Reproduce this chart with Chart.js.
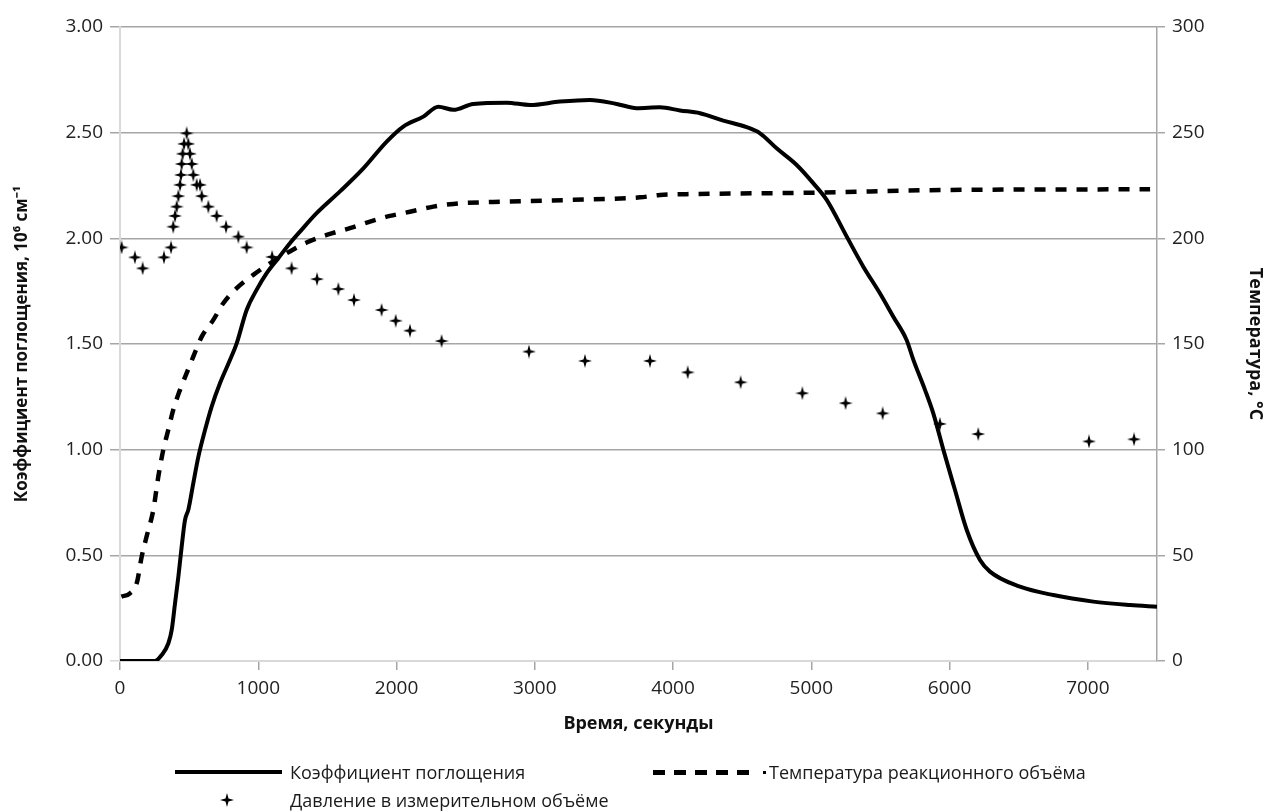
<!DOCTYPE html>
<html>
<head>
<meta charset="utf-8">
<script src="https://cdn.jsdelivr.net/npm/chart.js@4/dist/chart.umd.min.js"></script>
<style>
  html, body { margin: 0; padding: 0; background: #fff; }
  #wrap { position: relative; width: 1267px; height: 812px; }
  #chart { position: absolute; left: 0; top: 0; }
  .lg { position: absolute; font-family: "Open Sans", sans-serif; font-size: 18px; color: #1a1a1a; line-height: 22px; white-space: nowrap; }
  .sw { position: absolute; }
</style>
</head>
<body>
<div id="wrap">
  <canvas id="chart" width="1267" height="812"></canvas>
  <div class="sw" style="left:175px;top:770px;width:107px;height:4px;background:#000"></div>
  <div class="lg" style="left:290px;top:761px">Коэффициент поглощения</div>
  <div class="sw" style="left:653px;top:770px;width:105px;height:5px;background:repeating-linear-gradient(90deg,#000 0 12px,transparent 12px 21px)"></div>
  <div class="sw" style="left:763px;top:771px;width:3px;height:3px;background:#000"></div>
  <div class="lg" style="left:769px;top:761px">Температура реакционного объёма</div>
  <div class="sw" id="legendStar" style="left:220px;top:793px"></div>
  <div class="lg" style="left:290px;top:789px">Давление в измерительном объёме</div>
</div>
<script>
// absorption coefficient, 10^6 cm^-1 (left axis)
const absTime = [0, 150, 253, 301, 350, 374, 398, 422, 446, 470, 494, 530, 567, 615, 663, 723, 796, 844, 916, 988,
  1061, 1145, 1229, 1302, 1422, 1591, 1760, 1929, 2049, 2194, 2302, 2411, 2555, 2797, 2965, 3182, 3399, 3592, 3737, 3905,
  4050, 4195, 4363, 4532, 4629, 4749, 4894, 5015, 5111, 5256, 5376, 5496, 5593, 5689, 5738, 5822, 5882, 5955, 6039, 6124,
  6220, 6292, 6509, 6750, 7039, 7305, 7500];
const absValue = [0, 0, 0, 0.028, 0.084, 0.147, 0.273, 0.399, 0.541, 0.667, 0.715, 0.841, 0.967, 1.093, 1.204, 1.314, 1.425, 1.503, 1.661, 1.756,
  1.835, 1.906, 1.977, 2.032, 2.119, 2.222, 2.331, 2.458, 2.529, 2.576, 2.623, 2.608, 2.636, 2.642, 2.631, 2.647, 2.655, 2.636, 2.616, 2.62,
  2.605, 2.592, 2.557, 2.526, 2.497, 2.426, 2.347, 2.26, 2.182, 2.008, 1.866, 1.74, 1.629, 1.519, 1.425, 1.283, 1.172, 0.999, 0.809, 0.62,
  0.478, 0.423, 0.352, 0.312, 0.281, 0.265, 0.257];

// reaction volume temperature, C (right axis)
const tempTime = [10, 72, 121, 157, 192, 241, 277, 313, 349, 385, 434, 482, 530, 591, 675, 747, 844, 964, 1085, 1206,
  1350, 1495, 1663, 1808, 1953, 2097, 2266, 2411, 2797, 3279, 3761, 3905, 4098, 5014, 5979, 7450];
const tempValue = [30.5, 32, 36.8, 49.4, 58.8, 71.5, 87.2, 99.9, 109.3, 118.8, 128.3, 136.2, 144, 153.5, 161.4, 169.3, 176.4, 182.7, 188.2, 193,
  198, 201.6, 204.8, 207.9, 210.6, 212.6, 215, 216.3, 217.4, 218.2, 219.4, 220.5, 220.9, 221.6, 222.9, 223.2];

// pressure in the measuring volume (plotted on left axis)
const presTime = [12, 108, 164, 318, 369, 385, 398, 410, 422, 434, 441, 446, 453, 463, 482, 494, 506, 519, 530, 555,
  579, 591, 639, 699, 767, 856, 916, 1100, 1241, 1425, 1579, 1692, 1892, 1994, 2097, 2326, 2958, 3363, 3833, 4106,
  4489, 4935, 5248, 5516, 5930, 6207, 7008, 7334];
const presValue = [1.957, 1.91, 1.858, 1.91, 1.957, 2.055, 2.106, 2.15, 2.2, 2.253, 2.3, 2.352, 2.4, 2.447, 2.497, 2.447, 2.4, 2.352, 2.3, 2.253,
  2.253, 2.2, 2.15, 2.106, 2.055, 2.008, 1.957, 1.912, 1.858, 1.807, 1.76, 1.708, 1.661, 1.61, 1.563, 1.514, 1.464, 1.42, 1.42, 1.366,
  1.319, 1.267, 1.22, 1.172, 1.122, 1.074, 1.039, 1.049];

const leftTicks = [0, 0.5, 1, 1.5, 2, 2.5, 3];
const rightTicks = [0, 50, 100, 150, 200, 250, 300];
const timeTicks = [0, 1000, 2000, 3000, 4000, 5000, 6000, 7000];

const pairs = (xs, ys) => xs.map((x, i) => ({ x: x, y: ys[i] }));

// small four-point star used as the pressure marker
function makeStar(size) {
    const c = document.createElement('canvas');
    c.width = size; c.height = size;
    const g = c.getContext('2d');
    const m = size / 2, r = size / 2, q = 1.5;
    g.fillStyle = '#000';
    g.beginPath();
    g.moveTo(m, m - r);
    g.lineTo(m + q, m - q);
    g.lineTo(m + r, m);
    g.lineTo(m + q, m + q);
    g.lineTo(m, m + r);
    g.lineTo(m - q, m + q);
    g.lineTo(m - r, m);
    g.lineTo(m - q, m - q);
    g.closePath();
    g.fill();
    return c;
}
const starMarker = makeStar(14);
document.getElementById('legendStar').appendChild(makeStar(14));

const tickFont = { family: "'Open Sans', sans-serif", size: 19 };
const GRID = '#a6a6a6';
const LIGHT = '#d9d9d9';

new Chart(document.getElementById('chart').getContext('2d'), {
    type: 'scatter',
    data: {
        datasets: [
            {
                label: 'Коэффициент поглощения',
                data: pairs(absTime, absValue),
                showLine: true,
                borderColor: '#000',
                borderWidth: 4,
                pointRadius: 0,
                cubicInterpolationMode: 'monotone',
                yAxisID: 'y'
            },
            {
                label: 'Температура реакционного объёма',
                data: pairs(tempTime, tempValue),
                showLine: true,
                borderColor: '#000',
                borderWidth: 4.5,
                borderDash: [11, 10],
                borderCapStyle: 'butt',
                pointRadius: 0,
                cubicInterpolationMode: 'monotone',
                yAxisID: 'y2'
            },
            {
                label: 'Давление в измерительном объёме',
                data: pairs(presTime, presValue),
                showLine: false,
                pointStyle: starMarker,
                pointRadius: 6,
                yAxisID: 'y'
            }
        ]
    },
    options: {
        responsive: false,
        animation: false,
        layout: { padding: { left: 4, right: 1, top: 27, bottom: 76 } },
        plugins: { legend: { display: false }, tooltip: { enabled: false } },
        scales: {
            x: {
                type: 'linear',
                min: 0,
                max: 7500,
                afterFit: s => { s.height = 75; },
                afterBuildTicks: s => { s.ticks = timeTicks.map(v => ({ value: v })); },
                grid: { drawOnChartArea: false, drawTicks: true, tickLength: 9, color: GRID, lineWidth: 1.5 },
                border: { color: LIGHT, width: 2 },
                ticks: { font: tickFont, color: '#222', padding: 7, maxRotation: 0, callback: v => String(v) },
                title: { display: true, text: 'Время, секунды', color: '#111', padding: { top: 0, bottom: 1 },
                         font: { family: "'Open Sans', sans-serif", size: 18, weight: 'bold' } }
            },
            y: {
                position: 'left',
                min: 0,
                max: 3,
                afterFit: s => { s.width = 116; },
                afterBuildTicks: s => { s.ticks = leftTicks.map(v => ({ value: v })); },
                grid: { color: ctx => (ctx.tick && ctx.tick.value === 0 ? LIGHT : GRID), lineWidth: 1.5, tickLength: 10 },
                border: { color: LIGHT, width: 2 },
                ticks: { font: tickFont, color: '#222', padding: 7, callback: v => Number(v).toFixed(2) },
                title: { display: true, text: 'Коэффициент поглощения, 10⁶ см⁻¹', color: '#111', padding: { top: 8 },
                         font: { family: "'Open Sans', sans-serif", size: 17, weight: 'bold' } }
            },
            y2: {
                position: 'right',
                min: 0,
                max: 300,
                afterFit: s => { s.width = 109; },
                afterBuildTicks: s => { s.ticks = rightTicks.map(v => ({ value: v })); },
                grid: { drawOnChartArea: false, tickLength: 8, color: GRID, lineWidth: 1.5 },
                border: { color: GRID, width: 1.5 },
                ticks: { font: tickFont, color: '#222', padding: 7 },
                title: { display: true, text: 'Температура, °С', color: '#111', padding: { top: 0 },
                         font: { family: "'Liberation Sans Narrow', 'Open Sans', sans-serif", size: 18, weight: 'bold' } }
            }
        }
    }
});
</script>
</body>
</html>
